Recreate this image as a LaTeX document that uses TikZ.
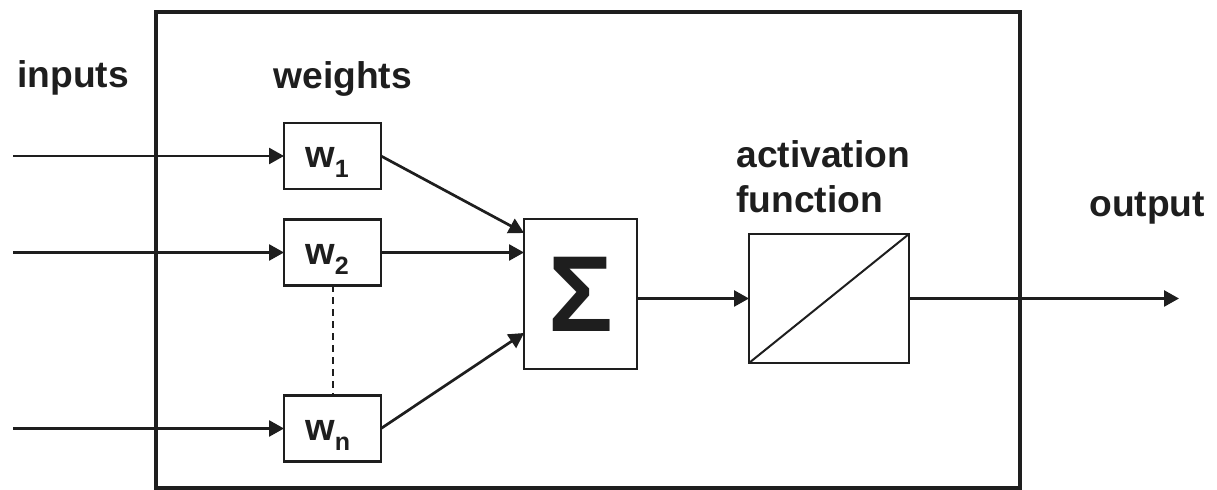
\documentclass[tikz,border=0pt]{standalone}
\usepackage{fontspec}
\setmainfont{Liberation Sans}
\usetikzlibrary{arrows.meta,calc}
\definecolor{ink}{HTML}{1E1E1E}
\begin{document}
\begin{tikzpicture}[x=0.5pt,y=-0.5pt,
  box/.style={draw=ink,line width=1.2pt,rectangle,inner sep=0pt,outer sep=0pt},
  wbox/.style={box,minimum width=48.5pt,minimum height=33pt},
  conn/.style={draw=ink,line width=1.35pt,-{Triangle[length=7.5pt,width=8pt]}},
  lab/.style={font=\fontsize{18.6}{20}\selectfont\bfseries,text=ink,inner sep=0pt,anchor=base west},
  wlab/.style={font=\fontsize{19}{20}\selectfont\bfseries,text=ink,inner sep=0pt,anchor=base west},
]
\useasboundingbox (0,0) rectangle (1217,490);
% frame
\node[draw=ink,line width=1.7pt,rectangle,inner sep=0pt,minimum width=432pt,minimum height=238pt] (frame) at (588,250) {};
% boxes
\node[wbox] (w1) at (332.5,156) {};
\node[wbox] (w2) at (332.5,252.5) {};
\node[wbox] (wn) at (332.5,428.5) {};
\node[box,minimum width=56.5pt,minimum height=75pt,font=\fontsize{54}{54}\selectfont\bfseries,text=ink] (sig) at (580.5,294) {Σ};
\node[box,minimum width=80pt,minimum height=64.5pt] (act) at (829,298.5) {};
% labels
\node[lab] (tin) at (17,88) {inputs};
\node[lab] (twe) at (273,89) {weights};
\node[lab] (tac) at (736,168) {activation};
\node[lab] (tfu) at (736,213) {function};
\node[lab] (tout) at (1089,217) {output};
\node[wlab] (w1t) at ($(w1.center)+(-27.5,12)$) {w\raisebox{-5pt}{\fontsize{12.5}{12}\selectfont 1}};
\node[wlab] (w2t) at ($(w2.center)+(-27.5,12)$) {w\raisebox{-5pt}{\fontsize{12.5}{12}\selectfont 2}};
\node[wlab] (wnt) at ($(wn.center)+(-27.5,12.5)$) {w\raisebox{-5pt}{\fontsize{12.5}{12}\selectfont n}};
% input coordinates
\coordinate (i1) at (13,156);
\coordinate (i2) at (13,252.5);
\coordinate (in) at (13,428.5);
\coordinate (out) at (1179,298.5);
% connectors
\draw[conn] (i1) -- (w1.west);
\draw[conn] (i2) -- (w2.west);
\draw[conn] (in) -- (wn.west);
\draw[conn] (w1.east) -- ($(sig.west)+(0,-61)$);
\draw[conn] (w2.east) -- (sig.west |- w2.east);
\draw[conn] (wn.east) -- ($(sig.west)+(0,39)$);
\draw[conn] (sig.east |- act.west) -- (act.west);
\draw[conn] (act.east) -- (out);
\draw[draw=ink,line width=1pt,dash pattern=on 3.5pt off 2.5pt] (w2.south) -- (wn.north);
\draw[draw=ink,line width=1pt] (act.south west) -- (act.north east);
\end{tikzpicture}
\end{document}
